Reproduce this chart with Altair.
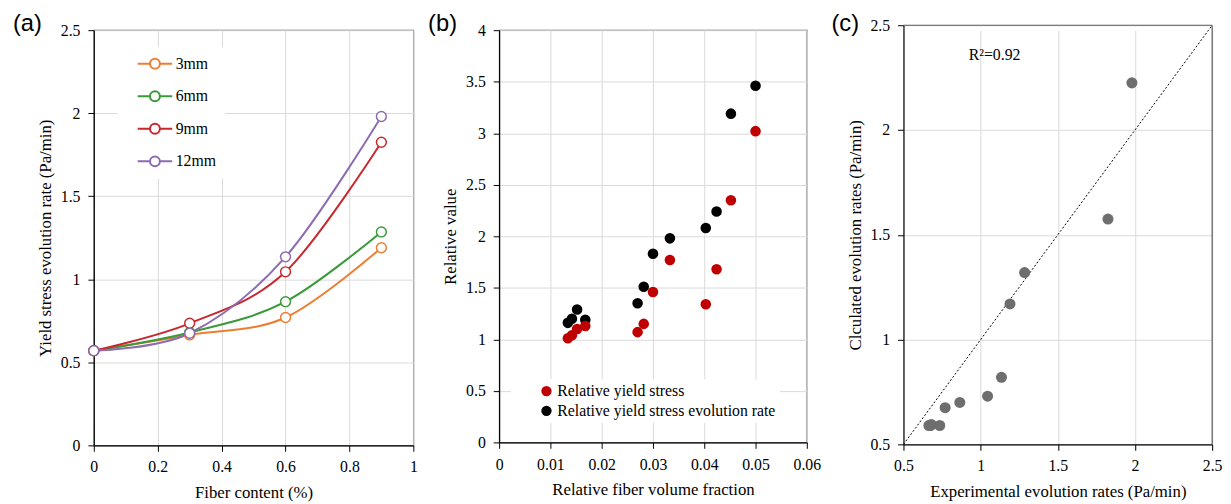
import altair as alt
import pandas as pd

# ---------------- data ----------------
# (a)
fiber_content = [0, 0.3, 0.6, 0.9]
lengths = ["3mm", "6mm", "9mm", "12mm"]
rate_3mm = [0.57, 0.665, 0.77, 1.19]
rate_6mm = [0.57, 0.68, 0.865, 1.285]
rate_9mm = [0.57, 0.735, 1.045, 1.825]
rate_12mm = [0.57, 0.675, 1.135, 1.98]
line_colors = ["#ED7D31", "#3A9A3A", "#C8282D", "#8C6BB1"]

# (b)
rel_vf = [0.0134, 0.0142, 0.0152, 0.0168, 0.0270, 0.0282, 0.0300, 0.0333,
          0.0403, 0.0424, 0.0452, 0.0500]
rel_yield = [1.01, 1.04, 1.10, 1.13, 1.07, 1.15, 1.46, 1.77, 1.34, 1.68, 2.35, 3.02]
rel_rate = [1.16, 1.20, 1.29, 1.19, 1.35, 1.51, 1.83, 1.98, 2.08, 2.24, 3.19, 3.46]
b_series = ["Relative yield stress", "Relative yield stress evolution rate"]
b_colors = ["#C00000", "#000000"]

# (c)
exp_rate = [0.665, 0.675, 0.68, 0.735, 0.77, 0.865, 1.045, 1.135, 1.19, 1.285, 1.825, 1.98]
calc_rate = [0.59, 0.59, 0.595, 0.59, 0.675, 0.70, 0.73, 0.82, 1.17, 1.32, 1.575, 2.225]
diag = [0.5, 2.5]
r2_text = ["R²=0.92"]
r2_x = [1.09]
r2_y = [2.36]

panel_labels = ["(a)", "(b)", "(c)"]

SERIF = "Liberation Serif"
SANS = "Liberation Sans"


def axis(values, title_pad, **kw):
    return alt.Axis(values=values, format="~g", labelFont=SERIF, titleFont=SERIF,
                    labelFontSize=16, titleFontSize=17, titleFontWeight="normal",
                    labelColor="black", titleColor="black", gridColor="#D9D9D9",
                    domainColor="black", domainWidth=1.2, tickColor="black", tickSize=6,
                    labelPadding=8, titlePadding=title_pad, **kw)


def panel_label(text, dx, dy):
    return alt.Chart(pd.DataFrame({"t": [text]})).mark_text(
        font=SANS, fontSize=24, align="left", baseline="top", color="black").encode(
        text="t:N", x=alt.value(dx), y=alt.value(dy))


# ---------------- panel (a) ----------------
rows = []
for name, vals in zip(lengths, [rate_3mm, rate_6mm, rate_9mm, rate_12mm]):
    for xv, yv in zip(fiber_content, vals):
        rows.append({"fiber": xv, "rate": yv, "length": name})
df_a = pd.DataFrame(rows)

legend_path = "M-3.5,0L-1,0M1,0L3.5,0M-1,0A1,1,0,1,1,1,0A1,1,0,1,1,-1,0Z"

xa = alt.X("fiber:Q", title="Fiber content (%)",
           scale=alt.Scale(domain=[0, 1], nice=False),
           axis=axis([0, 0.2, 0.4, 0.6, 0.8, 1], 10, labelFlush=False))
ya = alt.Y("rate:Q", title="Yield stress evolution rate (Pa/min)",
           scale=alt.Scale(domain=[0, 2.5], nice=False),
           axis=axis([0, 0.5, 1, 1.5, 2, 2.5], 6))
col_a = alt.Color("length:N", sort=lengths,
                  scale=alt.Scale(domain=lengths, range=line_colors),
                  legend=alt.Legend(title=None, orient="none", legendX=24, legendY=17,
                                    fillColor="white", padding=9, symbolOffset=21,
                                    symbolType=legend_path, symbolSize=100,
                                    symbolStrokeWidth=2, symbolFillColor="white",
                                    labelOffset=13, rowPadding=15, labelFontSize=16,
                                    labelFont=SERIF, labelColor="black"))
base_a = alt.Chart(df_a)
lines_a = base_a.mark_line(interpolate="cardinal", strokeWidth=2).encode(x=xa, y=ya, color=col_a)
pts_a = base_a.mark_point(filled=False, fill="white", size=100, strokeWidth=1.5, opacity=1).encode(
    x=xa, y=ya, color=col_a)
panel_a = alt.layer(lines_a, pts_a, panel_label(panel_labels[0], -82, -18)).properties(
    width=324, height=421)

# ---------------- panel (b) ----------------
df_b = pd.DataFrame({
    "vf": rel_vf + rel_vf,
    "val": rel_yield + rel_rate,
    "series": [b_series[0]] * len(rel_vf) + [b_series[1]] * len(rel_vf),
})
xb = alt.X("vf:Q", title="Relative fiber volume fraction",
           scale=alt.Scale(domain=[0, 0.06], nice=False),
           axis=axis([0, 0.01, 0.02, 0.03, 0.04, 0.05, 0.06], 10, labelFlush=False))
yb = alt.Y("val:Q", title="Relative value",
           scale=alt.Scale(domain=[0, 4], nice=False),
           axis=axis([0, 0.5, 1, 1.5, 2, 2.5, 3, 3.5, 4], 6))
col_b = alt.Color("series:N", sort=b_series,
                  scale=alt.Scale(domain=b_series, range=b_colors),
                  legend=alt.Legend(title=None, orient="none", legendX=12, legendY=354,
                                    fillColor="white", padding=4, symbolOffset=24,
                                    symbolType="circle", symbolSize=110, symbolOpacity=1,
                                    labelOffset=3, rowPadding=4, labelFontSize=16,
                                    labelFont=SERIF, labelColor="black", labelLimit=400))
pts_b = alt.Chart(df_b).mark_circle(size=115, opacity=1).encode(
    x=xb, y=yb, color=col_b, order=alt.Order("series:N", sort="descending"))
panel_b = alt.layer(pts_b, panel_label(panel_labels[1], -72, -18)).properties(
    width=312, height=418)

# ---------------- panel (c) ----------------
df_c = pd.DataFrame({"exp": exp_rate, "calc": calc_rate})
df_diag = pd.DataFrame({"exp": diag, "calc": diag})
df_r2 = pd.DataFrame({"exp": r2_x, "calc": r2_y, "t": r2_text})
xc = alt.X("exp:Q", title="Experimental evolution rates (Pa/min)",
           scale=alt.Scale(domain=[0.5, 2.5], nice=False),
           axis=axis([0.5, 1, 1.5, 2, 2.5], 10, labelFlush=False))
yc = alt.Y("calc:Q", title="Clculated evolution rates (Pa/min)",
           scale=alt.Scale(domain=[0.5, 2.5], nice=False, range=[420, -5]),
           axis=axis([0.5, 1, 1.5, 2, 2.5], 6))
one = pd.DataFrame({"k": [0]})
frame_top = alt.Chart(one).mark_rule(color="#595959", strokeWidth=1.2).encode(
    x=alt.datum(diag[0]), x2=alt.datum(diag[1]), y=alt.datum(diag[1]))
frame_right = alt.Chart(one).mark_rule(color="#595959", strokeWidth=1.2).encode(
    x=alt.datum(diag[1]), y=alt.datum(diag[0]), y2=alt.datum(diag[1]))
diag_c = alt.Chart(df_diag).mark_line(color="black", strokeWidth=1, strokeDash=[2, 2]).encode(
    x=xc, y=yc)
pts_c = alt.Chart(df_c).mark_circle(size=125, color="#6E6E6E", opacity=1).encode(x=xc, y=yc)
r2_c = alt.Chart(df_r2).mark_text(font=SERIF, fontSize=16, color="black").encode(
    x=xc, y=yc, text="t:N")
panel_c = alt.layer(diag_c, frame_top, frame_right, pts_c, r2_c,
                    panel_label(panel_labels[2], -73, -18)).properties(
    width=313, height=420, view=alt.ViewBackground(stroke="transparent"))

chart = alt.hconcat(panel_a, panel_b, panel_c, spacing=9).resolve_scale(
    color="independent").resolve_legend(color="independent").properties(
    padding={"left": 4, "top": 0, "right": 0, "bottom": 0}
).configure_view(stroke="#595959", strokeWidth=1.2)

chart.save("out.html", embed_options={"renderer": "svg", "actions": False})
